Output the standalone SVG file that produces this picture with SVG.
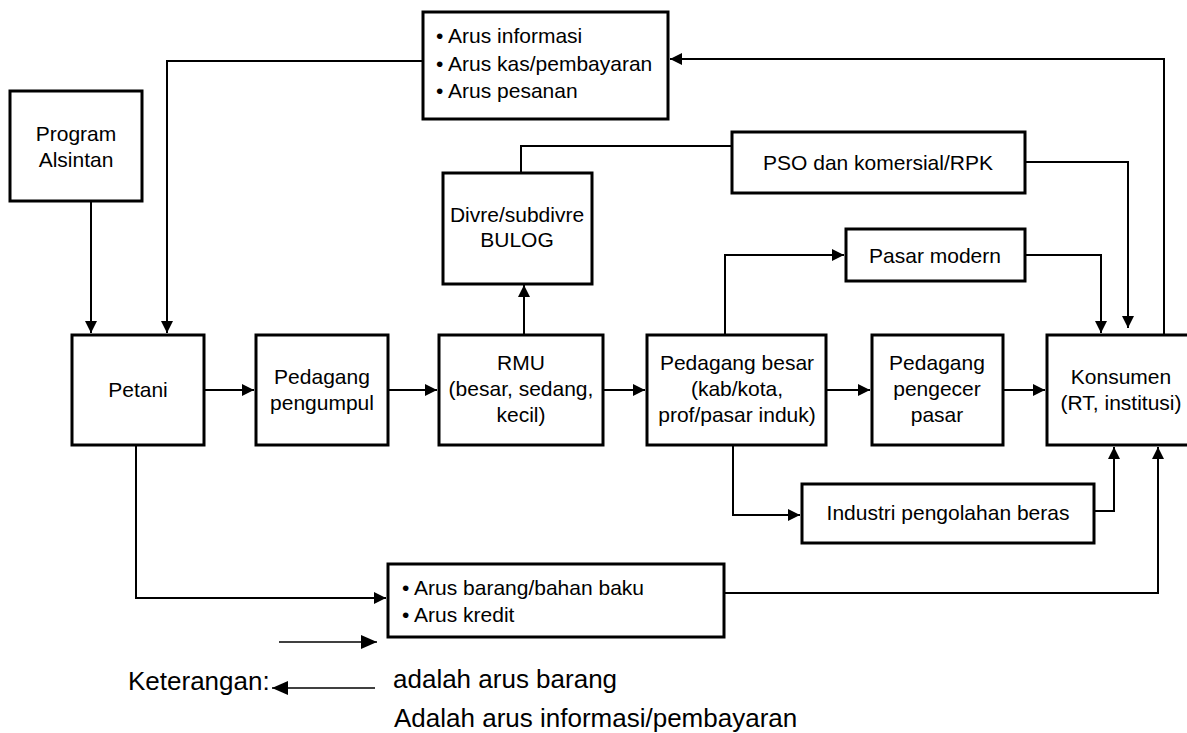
<svg xmlns="http://www.w3.org/2000/svg" width="1187" height="733" viewBox="0 0 1187 733">
<style>
.box{fill:#fff;stroke:#000;stroke-width:3}
.t{font-family:"Liberation Sans",Arial,sans-serif;font-size:21px;fill:#000;text-anchor:middle}
.tl{font-family:"Liberation Sans",Arial,sans-serif;font-size:21px;fill:#000}
.lg{font-family:"Liberation Sans",Arial,sans-serif;font-size:26px;fill:#000}
.c{fill:none;stroke:#000;stroke-width:2}
.ca{fill:none;stroke:#000;stroke-width:2;marker-end:url(#ah)}
.la{fill:none;stroke:#000;stroke-width:1.5;marker-end:url(#ahl)}
</style>
<defs>
<marker id="ah" viewBox="0 0 12 12" refX="12" refY="6" markerWidth="12" markerHeight="12" markerUnits="userSpaceOnUse" orient="auto"><path d="M0,0 L12,6 L0,12 z" fill="#000"/></marker>
<marker id="ahl" viewBox="0 0 16 14" refX="16" refY="7" markerWidth="16" markerHeight="14" markerUnits="userSpaceOnUse" orient="auto"><path d="M0,0 L16,7 L0,14 z" fill="#000"/></marker>
</defs>
<rect width="1187" height="733" fill="#fff"/>

<g id="connectors">
<path class="ca" d="M1164,335 L1164,59 L670,59"/>
<path class="ca" d="M422,61 L167,61 L167,333"/>
<path class="ca" d="M91,201 L91,333"/>
<path class="c" d="M521,173 L521,146 L732,146"/>
<path class="ca" d="M1025,162 L1128,162 L1128,328"/>
<path class="ca" d="M725,335 L725,255 L844,255"/>
<path class="ca" d="M1025,255 L1101,255 L1101,333"/>
<path class="ca" d="M524,335 L524,285"/>
<path class="ca" d="M204,390 L254,390"/>
<path class="ca" d="M388,390 L437,390"/>
<path class="ca" d="M603,390 L645,390"/>
<path class="ca" d="M826,390 L870,390"/>
<path class="ca" d="M1003,390 L1045,390"/>
<path class="ca" d="M733,445 L733,515 L800,515"/>
<path class="ca" d="M1094,511 L1114,511 L1114,447"/>
<path class="ca" d="M136,445 L136,598 L386,598"/>
<path class="ca" d="M724,593 L1158,593 L1158,447"/>
</g>

<g id="info-box">
<rect class="box" x="423" y="12" width="245" height="107"/>
<text class="tl" x="436" y="43">• Arus informasi</text>
<text class="tl" x="436" y="71">• Arus kas/pembayaran</text>
<text class="tl" x="436" y="98">• Arus pesanan</text>
</g>

<g id="program-alsintan">
<rect class="box" x="10" y="91" width="132" height="110"/>
<text class="t" x="76" y="141">Program</text>
<text class="t" x="76" y="167">Alsintan</text>
</g>

<g id="divre">
<rect class="box" x="443" y="173" width="149" height="111"/>
<text class="t" x="517" y="222">Divre/subdivre</text>
<text class="t" x="517" y="247">BULOG</text>
</g>

<g id="pso">
<rect class="box" x="732" y="132" width="293" height="61"/>
<text class="t" x="878" y="170">PSO dan komersial/RPK</text>
</g>

<g id="pasar-modern">
<rect class="box" x="846" y="229" width="179" height="52"/>
<text class="t" x="935" y="263">Pasar modern</text>
</g>

<g id="petani">
<rect class="box" x="72" y="335" width="132" height="110"/>
<text class="t" x="138" y="397">Petani</text>
</g>

<g id="pedagang-pengumpul">
<rect class="box" x="256" y="335" width="132" height="110"/>
<text class="t" x="322" y="384">Pedagang</text>
<text class="t" x="322" y="410">pengumpul</text>
</g>

<g id="rmu">
<rect class="box" x="439" y="335" width="164" height="110"/>
<text class="t" x="521" y="370">RMU</text>
<text class="t" x="521" y="396">(besar, sedang,</text>
<text class="t" x="521" y="422">kecil)</text>
</g>

<g id="pedagang-besar">
<rect class="box" x="647" y="335" width="179" height="110"/>
<text class="t" x="737" y="370">Pedagang besar</text>
<text class="t" x="737" y="396">(kab/kota,</text>
<text class="t" x="737" y="422">prof/pasar induk)</text>
</g>

<g id="pedagang-pengecer">
<rect class="box" x="872" y="335" width="131" height="110"/>
<text class="t" x="937" y="370">Pedagang</text>
<text class="t" x="937" y="396">pengecer</text>
<text class="t" x="937" y="422">pasar</text>
</g>

<g id="konsumen">
<rect class="box" x="1047" y="335" width="145" height="110"/>
<text class="t" x="1121" y="384">Konsumen</text>
<text class="t" x="1121" y="410">(RT, institusi)</text>
</g>

<g id="industri">
<rect class="box" x="802" y="484" width="292" height="59"/>
<text class="t" x="948" y="520">Industri pengolahan beras</text>
</g>

<g id="barang-box">
<rect class="box" x="388" y="564" width="336" height="73"/>
<text class="tl" x="402" y="595">• Arus barang/bahan baku</text>
<text class="tl" x="402" y="622">• Arus kredit</text>
</g>

<g id="legend">
<path class="la" d="M279,642 L377,642"/>
<path class="la" d="M375,688 L272,688"/>
<text class="lg" x="128" y="690">Keterangan:</text>
<text class="lg" x="393" y="688">adalah arus barang</text>
<text class="lg" x="394" y="727">Adalah arus informasi/pembayaran</text>
</g>
</svg>
